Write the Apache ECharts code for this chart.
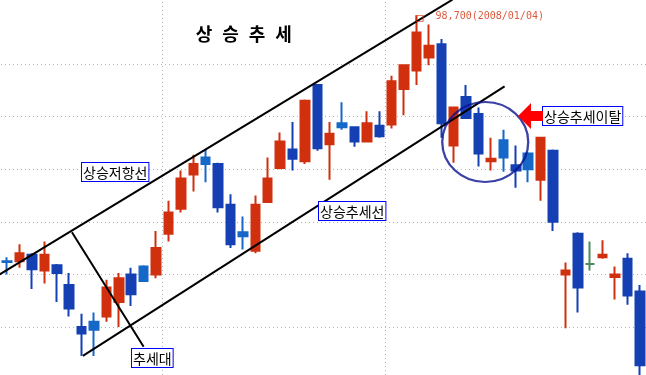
<!DOCTYPE html>
<html>
<head>
<meta charset="utf-8">
<script src="https://cdn.jsdelivr.net/npm/echarts@6/dist/echarts.min.js"></script>
<style>
html,body{margin:0;padding:0;background:#fff;}
#chart{width:646px;height:375px;}
</style>
</head>
<body>
<div id="chart"></div>
<script>
// Trading days (KRX), 2007/11/14 .. 2008/01/30
const categories = [
  '2007/11/14','2007/11/15','2007/11/16','2007/11/19','2007/11/20','2007/11/21','2007/11/22','2007/11/23',
  '2007/11/26','2007/11/27','2007/11/28','2007/11/29','2007/11/30',
  '2007/12/03','2007/12/04','2007/12/05','2007/12/06','2007/12/07','2007/12/10','2007/12/11','2007/12/12',
  '2007/12/13','2007/12/14','2007/12/17','2007/12/18','2007/12/20','2007/12/21','2007/12/24','2007/12/26',
  '2007/12/27','2007/12/28',
  '2008/01/02','2008/01/03','2008/01/04','2008/01/07','2008/01/08','2008/01/09','2008/01/10','2008/01/11',
  '2008/01/14','2008/01/15','2008/01/16','2008/01/17','2008/01/18','2008/01/21','2008/01/22','2008/01/23',
  '2008/01/24','2008/01/25','2008/01/28','2008/01/29','2008/01/30'
];
const opens  = [80000,80000,80500,79300,79700,78200,75000,75400,75800,76900,79000,79600,79000,
                82100,84000,86600,87900,87400,84300,82200,80800,84500,87100,88500,87600,93400,88900,90500,90200,89100,90300,
                90400,93100,94500,95500,96500,88800,92500,91200,87600,89200,87300,88200,86200,88400,79000,82100,79800,80300,78800,80200,77700];
const closes = [79950,80600,79400,80500,79100,76400,74500,74800,78000,78700,77500,78500,81000,
                83700,86300,87400,87400,84100,81300,81900,84300,86300,89100,87800,92200,88600,89700,90200,89100,90500,89500,
                93700,94900,97400,96400,90500,91700,90900,88200,87800,87900,86900,87000,89400,83000,79300,78000,79800,80500,79000,77400,72100];
const lows   = [79000,79500,77900,78300,76900,75800,72800,72800,75400,75000,76600,78500,78700,
                81500,83700,85300,86000,83700,81000,80900,80600,84500,87000,86900,87400,88400,86200,90000,88700,89100,89400,
                90100,91100,93400,94900,89400,87500,90900,87200,86900,86800,85600,86000,84600,82300,74900,76100,79300,80200,77100,76700,71300];
const highs  = [80300,81300,80600,81500,79800,79100,76000,76100,78600,79100,79500,79700,82300,
                84600,86900,88100,88500,87500,85100,83400,85000,87900,89800,90600,92300,93400,90600,92100,90200,91400,91400,
                94100,94900,98700,98000,96900,91700,93400,91700,89400,90000,88800,88300,89400,88500,79900,82200,81500,81600,79600,80600,78200];

// horizontal reference levels (dotted grid)
const gridLevels = [75000, 79000, 83000, 87000, 91000, 95000];

// annotation lines, [x index, price]
const resistanceLine = [[-0.6, 79000], [35.9, 99900]];
const supportLine    = [[6.1, 72800], [40.1, 93300]];
const bandLine       = [[5.22, 82200], [11.0, 73500]];
const breakoutCircle = [[38.54, 89070]];

const titleText = '상승추세';

const RED = '#d0300e', BLUE = '#1440b4', LBLUE = '#1668c8', GREEN = '#4c8c5c';

const candleData = categories.map((c, i) => {
  const o = opens[i], cl = closes[i];
  let col;
  if (cl > o) col = RED;
  else if (cl < o) col = (i === 0 || cl >= closes[i - 1]) ? LBLUE : BLUE;
  else col = GREEN;
  return {
    value: [o, cl, lows[i], highs[i]],
    itemStyle: { color: col, color0: col, borderColor: col, borderColor0: col, borderColorDoji: col }
  };
});

// month boundaries for vertical grid
const monthBreaks = [];
for (let i = 1; i < categories.length; i++) {
  if (categories[i].slice(0, 7) !== categories[i - 1].slice(0, 7)) monthBreaks.push(i - 0.5);
}

let maxIdx = 0;
highs.forEach((h, i) => { if (h > highs[maxIdx]) maxIdx = i; });
const maxLabel = highs[maxIdx].toLocaleString('en-US') + '(' + categories[maxIdx] + ')';

const dotted = { color: '#b4b4b4', width: 1, type: [1, 3] };
const lineStyleBlack = { color: '#000', width: 2 };

const chart = echarts.init(document.getElementById('chart'), null, { renderer: 'canvas' });

const boxStyle = {
  fontSize: 14, fontFamily: 'Noto Sans CJK KR', fill: '#000',
  backgroundColor: '#fff', borderColor: '#0000ff', borderWidth: 1,
  padding: [1, 1, 0, 1], lineHeight: 17
};

const titleEls = titleText.split('').map((ch, k) => ({
  type: 'text', x: 204 + k * 26.5, y: 34, z: 10,
  style: { text: ch, fontSize: 18, fontWeight: 'bold', fontFamily: 'Noto Sans CJK KR', fill: '#000', align: 'center', verticalAlign: 'middle' }
}));

chart.setOption({
  animation: false,
  grid: { left: 1, right: -1, top: 0, bottom: 0 },
  xAxis: [
    { type: 'category', data: categories, show: false, boundaryGap: true },
    { type: 'value', min: -0.5, max: categories.length - 0.5, show: false }
  ],
  yAxis: { type: 'value', min: 71350, max: 99870, show: false, splitLine: { show: false } },
  series: [
    {
      type: 'line', xAxisIndex: 1, data: [], z: 0, silent: true,
      markLine: {
        z: 0, silent: true, symbol: ['none', 'none'], label: { show: false },
        lineStyle: dotted, animation: false,
        data: gridLevels.map(v => ({ yAxis: v })).concat(monthBreaks.map(v => ({ xAxis: v })))
      }
    },
    {
      type: 'candlestick', data: candleData, barWidth: 9, z: 2,
      itemStyle: { borderWidth: 2 }
    },
    { type: 'line', xAxisIndex: 1, data: resistanceLine, symbol: 'none', lineStyle: lineStyleBlack, z: 3, silent: true },
    { type: 'line', xAxisIndex: 1, data: supportLine, symbol: 'none', lineStyle: lineStyleBlack, z: 3, silent: true },
    { type: 'line', xAxisIndex: 1, data: bandLine, symbol: 'none', lineStyle: lineStyleBlack, z: 3, silent: true },
    {
      type: 'scatter', xAxisIndex: 1, data: breakoutCircle, symbol: 'circle', symbolSize: [86, 80], z: 4, silent: true,
      itemStyle: { color: 'rgba(0,0,0,0)', borderColor: '#081290', borderWidth: 2.2 }
    },
    {
      type: 'scatter', data: [[maxIdx, highs[maxIdx]]], symbol: 'rect', symbolSize: [7, 6], symbolOffset: [3, 3], z: 4, silent: true,
      itemStyle: { color: 'rgba(0,0,0,0)', borderColor: RED, borderWidth: 1 },
      label: {
        show: true, position: 'right', distance: 12, offset: [0, -2], formatter: maxLabel,
        color: RED, fontSize: 10, fontFamily: 'DejaVu Sans Mono'
      }
    }
  ],
  graphic: titleEls.concat([
    { type: 'text', x: 82, y: 163, z: 10, style: Object.assign({ text: '상승저항선' }, boxStyle) },
    { type: 'text', x: 319, y: 202, z: 10, style: Object.assign({ text: '상승추세선' }, boxStyle) },
    { type: 'text', x: 132, y: 349, z: 10, style: Object.assign({ text: '추세대' }, boxStyle) },
    { type: 'text', x: 543, y: 107, z: 10, style: Object.assign({ text: '상승추세이탈' }, boxStyle) },
    { type: 'polygon', z: 10, shape: { points: [[518, 116], [531, 103], [531, 111], [543, 111], [543, 121], [531, 121], [531, 129]] }, style: { fill: '#ff0000' } }
  ])
});
</script>
</body>
</html>
